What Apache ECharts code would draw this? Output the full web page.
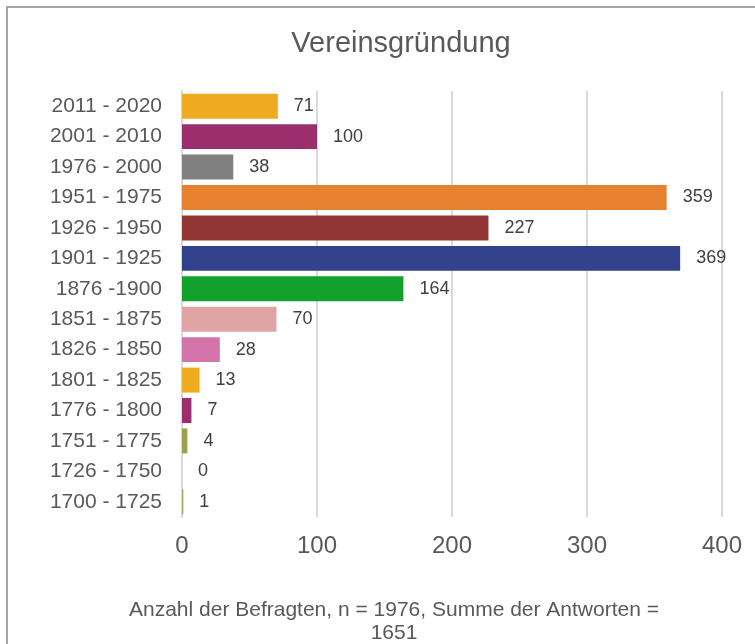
<!DOCTYPE html>
<html>
<head>
<meta charset="utf-8">
<script src="https://cdn.jsdelivr.net/npm/echarts@6/dist/echarts.min.js"></script>
<style>
    html, body { margin: 0; padding: 0; background: #fff; }
    #chart { width: 755px; height: 644px; }
</style>
</head>
<body>
<div id="chart"></div>
<script>
// categories top to bottom
const categories = ['2011 - 2020', '2001 - 2010', '1976 - 2000', '1951 - 1975', '1926 - 1950', '1901 - 1925',
    '1876 -1900', '1851 - 1875', '1826 - 1850', '1801 - 1825', '1776 - 1800', '1751 - 1775', '1726 - 1750', '1700 - 1725'];
const counts = [71, 100, 38, 359, 227, 369, 164, 70, 28, 13, 7, 4, 0, 1];
const barColors = ['#efab1f', '#9b2f6e', '#808080', '#e6812f', '#913634', '#32418c', '#13a02d',
    '#e0a4a4', '#d472aa', '#efab1f', '#9b2f6e', '#9ba149', '#9ba149', '#a5a95c'];
const xTicks = [0, 100, 200, 300, 400];

const chart = echarts.init(document.getElementById('chart'));

const option = {
    animation: false,
    textStyle: { fontFamily: 'Liberation Sans, Arial, sans-serif' },
    title: [
        {
            text: 'Vereinsgründung',
            left: 396,
            top: 24,
            textAlign: 'center',
            textStyle: { fontSize: 29, fontWeight: 'normal', color: '#595959' }
        },
        {
            text: 'Anzahl der Befragten, n = 1976, Summe der Antworten =\n1651',
            left: 389,
            top: 594,
            textAlign: 'center',
            textStyle: { fontSize: 21, fontWeight: 'normal', color: '#595959', lineHeight: 23 }
        }
    ],
    graphic: [{
        type: 'rect',
        shape: { x: 7, y: 7, width: 800, height: 700 },
        style: { fill: 'none', stroke: '#a6a6a6', lineWidth: 2 },
        silent: true
    }],
    grid: { left: 182, right: 33, top: 91, bottom: 127 },
    xAxis: {
        type: 'value',
        min: xTicks[0],
        max: xTicks[xTicks.length - 1],
        interval: 100,
        axisLine: { show: false },
        axisTick: { show: false },
        axisLabel: { fontSize: 24, color: '#595959', margin: 17 },
        splitLine: { lineStyle: { color: '#d9d9d9', width: 2 } }
    },
    yAxis: {
        type: 'category',
        data: categories,
        inverse: true,
        axisLine: { show: true, lineStyle: { color: '#d9d9d9', width: 2 } },
        axisTick: { show: false },
        axisLabel: { fontSize: 21, color: '#595959', margin: 20 }
    },
    series: [{
        type: 'bar',
        data: counts.map((v, i) => ({ value: v, itemStyle: { color: barColors[i] } })),
        barCategoryGap: '18%',
        label: {
            show: true,
            position: 'right',
            distance: 16,
            fontSize: 18,
            color: '#404040'
        }
    }]
};

chart.setOption(option);
</script>
</body>
</html>
